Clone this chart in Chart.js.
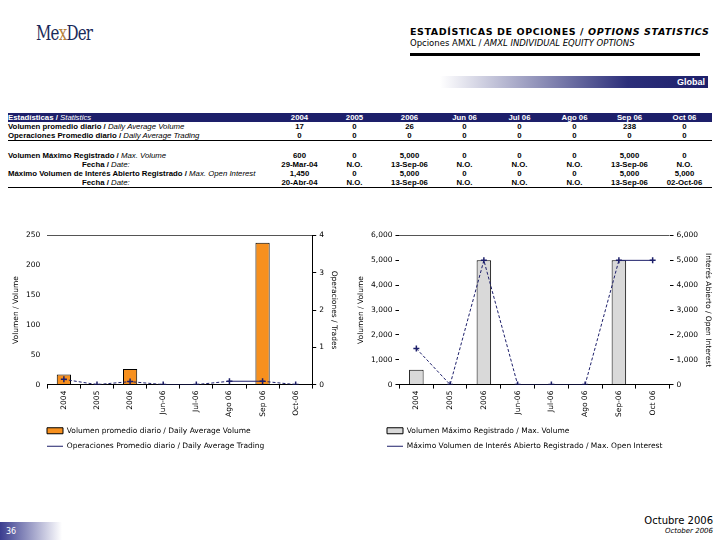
<!DOCTYPE html>
<html>
<head>
<meta charset="utf-8">
<script src="https://cdn.jsdelivr.net/npm/chart.js@4.4.0/dist/chart.umd.min.js"></script>
<style>
body { margin:0; width:720px; height:540px; background:#fff; position:relative; overflow:hidden; font-family:"DejaVu Sans", Verdana, sans-serif; }
.abs { position:absolute; }
#logo { left:36px; top:21px; font-family:"DejaVu Serif", serif; font-size:20px; color:#1a2a5a; letter-spacing:-1px; transform:scaleX(0.75); transform-origin:left; }
#logo span { color:#b5813a; }
#title { left:410px; top:26px; font-size:9.5px; font-weight:bold; letter-spacing:0.6px; color:#000; }
#sub { left:410px; top:38px; font-size:8.5px; color:#000; }
#rule { left:410px; top:53px; width:290px; height:3px; background:#000; }
#global { left:440px; top:76px; width:268px; height:12px; background:linear-gradient(to right,#fff,#2c2f7a 70%,#1d1f6a); color:#fff; font-family:"Liberation Sans", Arial, sans-serif; font-size:9px; font-weight:bold; text-align:right; line-height:12px; }
#global span { padding-right:3px; }
table { position:absolute; left:8px; top:113px; width:704px; table-layout:fixed; border-collapse:collapse; font-family:"Liberation Sans", Arial, sans-serif; font-size:7.8px; font-weight:bold; color:#000; }
td { padding:0; height:9px; line-height:9px; text-align:center; white-space:nowrap; overflow:visible; }
td.l { text-align:left; }
td.f { text-align:left; padding-left:74px; }
tr.h td { background:#1d1f6a; color:#fff; height:9px; }
i { font-weight:normal; }
tr.bl td { border-bottom:1px solid #000; }
#c1 { left:0; top:228px; width:358px; height:232px; }
#c2 { left:355px; top:228px; width:365px; height:232px; }
#pg { left:0; top:522px; width:62px; height:18px; background:linear-gradient(to right,#3a3d8f,#fff); color:#fff; font-size:8px; line-height:20px; padding-left:6px; box-sizing:border-box; }
#mes { right:7px; top:515px; font-size:10px; text-align:right; }
#mes div { font-size:7px; font-style:italic; margin-top:1px; }
</style>
</head>
<body>
<div id="logo" class="abs">Me<span>x</span>Der</div>
<div id="title" class="abs">ESTADÍSTICAS DE OPCIONES / <i style="font-weight:bold">OPTIONS STATISTICS</i></div>
<div id="sub" class="abs">Opciones AMXL / <i>AMXL INDIVIDUAL EQUITY OPTIONS</i></div>
<div id="rule" class="abs"></div>
<div id="global" class="abs"><span>Global</span></div>

<table id="tbl"></table>

<div id="c1" class="abs"><canvas id="chart1"></canvas></div>
<div id="c2" class="abs"><canvas id="chart2"></canvas></div>

<div id="pg" class="abs">36</div>
<div id="mes" class="abs">Octubre 2006<div>October 2006</div></div>

<script>
// table data
var columns = ["2004", "2005", "2006", "Jun 06", "Jul 06", "Ago 06", "Sep 06", "Oct 06"];
var avgVolumeRow = ["17", "0", "26", "0", "0", "0", "238", "0"];
var avgTradingRow = ["0", "0", "0", "0", "0", "0", "0", "0"];
var maxVolumeRow = ["600", "0", "5,000", "0", "0", "0", "5,000", "0"];
var maxVolumeDate = ["29-Mar-04", "N.O.", "13-Sep-06", "N.O.", "N.O.", "N.O.", "13-Sep-06", "N.O."];
var maxOIRow = ["1,450", "0", "5,000", "0", "0", "0", "5,000", "5,000"];
var maxOIDate = ["20-Abr-04", "N.O.", "13-Sep-06", "N.O.", "N.O.", "N.O.", "13-Sep-06", "02-Oct-06"];

// chart data
var labels1 = ["2004", "2005", "2006", "Jun-06", "Jul-06", "Ago 06", "Sep 06", "Oct-06"];
var dailyVolume = [17, 0, 26, 0, 0, 0, 238, 0];
var dailyTrading = [0.14, 0, 0.08, 0, 0, 0.09, 0.09, 0];
var labels2 = ["2004", "2005", "2006", "Jun-06", "Jul-06", "Ago 06", "Sep-06", "Oct 06"];
var maxVolume = [600, 0, 5000, 0, 0, 0, 5000, 0];
var maxOpenInterest = [1450, 0, 5000, 0, 0, 0, 5000, 5000];

function row(label, vals, cls, lcls) {
    var h = '<tr class="' + (cls || '') + '"><td class="' + (lcls || 'l') + '">' + label + '</td>';
    for (var i = 0; i < vals.length; i++) h += '<td>' + vals[i] + '</td>';
    return h + '</tr>';
}
var html = '<colgroup><col style="width:264px">';
for (var c = 0; c < columns.length; c++) html += '<col style="width:55px">';
html += '</colgroup>';
html += row('Estadísticas / <i>Statistics</i>', columns, 'h');
html += row('Volumen promedio diario / <i>Daily Average Volume</i>', avgVolumeRow);
html += row('Operaciones Promedio diario / <i>Daily Average Trading</i>', avgTradingRow, 'bl');
html += '<tr><td colspan="9" style="height:10px"></td></tr>';
html += row('Volumen Máximo Registrado / <i>Max. Volume</i>', maxVolumeRow);
html += row('Fecha / <i>Date:</i>', maxVolumeDate, '', 'f');
html += row('Máximo Volumen de Interés Abierto Registrado / <i>Max. Open Interest</i>', maxOIRow);
html += row('Fecha / <i>Date:</i>', maxOIDate, 'bl', 'f');
document.getElementById("tbl").innerHTML = html;

Chart.defaults.font.family = "'DejaVu Sans', Verdana, sans-serif";
Chart.defaults.font.size = 7.5;
Chart.defaults.color = "#000";
Chart.defaults.animation = false;

function legendLabels(chart) {
    var items = Chart.defaults.plugins.legend.labels.generateLabels(chart);
    items.forEach(function (it) {
        it.pointStyle = chart.data.datasets[it.datasetIndex].type === 'line' ? 'line' : 'rect';
        it.lineWidth = 1;
    });
    return items;
}

// move the legend to the right so it lines up under the plot
var legendShift = {
    id: 'legendShift',
    afterLayout: function (chart, args, opts) {
        if (chart.legend) {
            chart.legend.left += opts.dx || 0;
            chart.legend.right += opts.dx || 0;
        }
    }
};

function dashSeg(ctx) {
    return ctx.p0.parsed.y === ctx.p1.parsed.y ? [] : [3, 2];
}

function topLine(ctx) {
    return ctx.tick.value === ctx.scale.max ? '#555' : 'rgba(0,0,0,0)';
}

function makeChart(id, labels, barData, barColor, barLabel, lineData, lineLabel, yMax, yStep, y2Max, y2Step, y2Title, pad, rightBorder, leftTicks, dx) {
    return new Chart(id, {
        plugins: [legendShift],
        data: {
            labels: labels,
            datasets: [{
                type: 'line',
                label: lineLabel,
                data: lineData,
                yAxisID: 'y2',
                borderColor: '#1d1f6a',
                backgroundColor: '#1d1f6a',
                borderWidth: 1,
                pointStyle: 'cross',
                pointRadius: 3,
                pointBorderWidth: 1.5,
                segment: { borderDash: dashSeg },
                order: 0
            }, {
                type: 'bar',
                label: barLabel,
                data: barData,
                yAxisID: 'y',
                backgroundColor: barColor,
                borderColor: '#000',
                borderWidth: 1,
                barPercentage: 0.43,
                categoryPercentage: 1,
                order: 1
            }]
        },
        options: {
            responsive: true,
            maintainAspectRatio: false,
            layout: { padding: pad },
            plugins: {
                tooltip: { enabled: false },
                legendShift: { dx: dx },
                legend: {
                    position: 'bottom',
                    align: 'start',
                    reverse: true,
                    labels: {
                        usePointStyle: true,
                        pointStyleWidth: 16,
                        boxHeight: 6,
                        padding: 8,
                        generateLabels: legendLabels,
                        font: { size: 7.5 }
                    }
                }
            },
            scales: {
                x: {
                    grid: { offset: true, color: 'rgba(0,0,0,0)', tickColor: '#000', tickLength: 4 },
                    border: { color: '#000' },
                    ticks: { minRotation: 90, maxRotation: 90, padding: 2 }
                },
                y: {
                    position: 'left',
                    min: 0, max: yMax,
                    ticks: { stepSize: yStep, padding: 3 },
                    grid: { color: topLine, tickColor: leftTicks ? '#000' : 'rgba(0,0,0,0)', tickLength: 4 },
                    border: { display: false },
                    title: { display: true, text: 'Volumen / Volume', padding: 2 }
                },
                y2: {
                    position: 'right',
                    min: 0, max: y2Max,
                    ticks: { stepSize: y2Step, padding: 3 },
                    grid: { drawOnChartArea: false, tickColor: '#000', tickLength: 4 },
                    border: { display: rightBorder, color: '#000' },
                    title: { display: true, text: y2Title, padding: 2 }
                }
            }
        }
    });
}

makeChart("chart1", labels1, dailyVolume, '#f7901e', 'Volumen promedio diario / Daily Average Volume',
    dailyTrading, 'Operaciones Promedio diario / Daily Average Trading',
    250, 50, 4, 1, 'Operaciones / Trades', { left: 10, right: 18, top: 2, bottom: 0 }, true, false, 29);

makeChart("chart2", labels2, maxVolume, '#d9d9d9', 'Volumen Máximo Registrado / Max. Volume',
    maxOpenInterest, 'Máximo Volumen de Interés Abierto Registrado / Max. Open Interest',
    6000, 1000, 6000, 1000, 'Interés Abierto / Open Interest', { left: 0, right: 6, top: 2, bottom: 0 }, false, true, 24);
</script>
</body>
</html>
